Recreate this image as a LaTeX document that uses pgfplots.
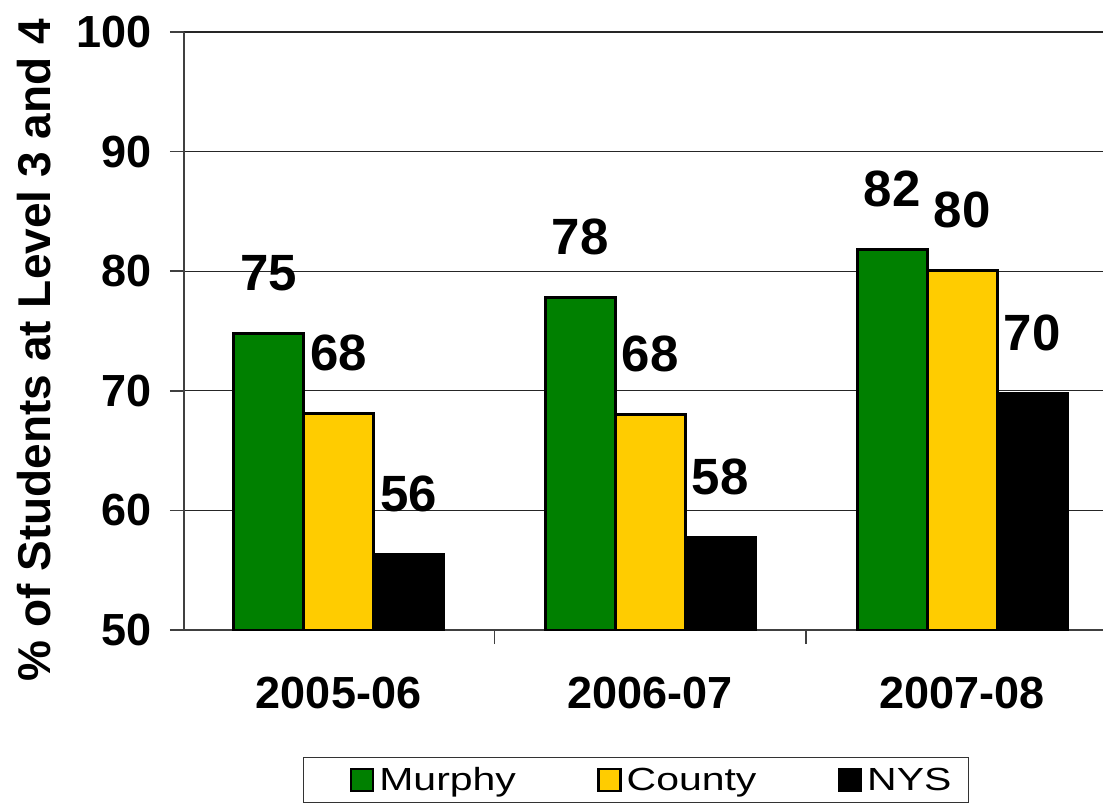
\documentclass[border=0pt]{standalone}
\usepackage{fontspec}
\setmainfont{Liberation Sans}
\newfontfamily\legfont[FakeStretch=1.28]{Liberation Sans}
\usepackage{pgfplots}
\pgfplotsset{compat=1.18}
\definecolor{murphy}{RGB}{0,128,0}
\definecolor{county}{RGB}{255,204,0}
\pgfplotsset{
  sqlegend/.style={legend image code/.code={%
    \path (0pt,0pt);
    \draw[##1,line width=2.5pt] (34pt,-11pt) rectangle (56pt,11pt);}},
}
\begin{document}
\begin{tikzpicture}
\begin{axis}[
  width=919pt, height=598pt, scale only axis,
  xmin=-0.4956, xmax=2.452, ymin=50, ymax=100,
  ybar=0pt, bar width=70pt,
  axis x line*=bottom, axis y line*=left,
  axis line style={black!75, line width=1.5pt},
  tick align=outside, major tick length=14pt,
  tick style={black!75, line width=1.5pt},
  ytick={50,60,...,100},
  ymajorgrids, grid style={black!85, line width=1.2pt},
  xtick={-0.5,0.5,1.5,2.5}, xticklabels={},
  extra x ticks={0,1,2},
  extra x tick labels={2005-06,2006-07,2007-08},
  extra x tick style={major tick length=0pt, grid=none},
  /pgf/number format/assume math mode=true,
  yticklabel style={font=\bfseries\fontsize{45}{45}\selectfont, xshift=-15pt},
  xticklabel style={font=\bfseries\fontsize{45}{45}\selectfont, yshift=-44pt},
  ylabel={\% of Students at Level 3 and 4},
  ylabel style={at={(axis description cs:-0.1458,0.468)}, anchor=base, inner sep=0pt,
    font=\bfseries\fontsize{46}{46}\selectfont},
  nodes near coords={\pgfmathprintnumber[fixed,precision=0]{\pgfplotspointmeta}},
  every node near coord/.append style={font=\bfseries\fontsize{51}{51}\selectfont,
    inner sep=0pt, anchor=south, yshift=41pt, black},
  legend columns=3,
  legend style={at={(axis description cs:0.1295,-0.2124)}, anchor=north west,
    draw=black!80, line width=1.2pt, inner xsep=12pt, inner ysep=10pt,
    nodes={inner xsep=5pt, inner ysep=0pt},
    font=\legfont\fontsize{32}{32}\selectfont,
    /tikz/every even column/.append style={column sep=42pt}},
  legend cell align=left,
]
\addplot[fill=murphy, draw=black, line width=3pt, sqlegend] coordinates {(0,74.8) (1,77.8) (2,81.8)};
\addplot[fill=county, draw=black, line width=3pt, sqlegend] coordinates {(0,68.1) (1,68.0) (2,80.1)};
\addplot[fill=black, draw=black, line width=3pt, sqlegend] coordinates {(0,56.3) (1,57.7) (2,69.8)};
\legend{Murphy, County, NYS}
\end{axis}
\pgfresetboundingbox
\useasboundingbox (-184pt,-174pt) rectangle (919pt,630pt);
\end{tikzpicture}
\end{document}
